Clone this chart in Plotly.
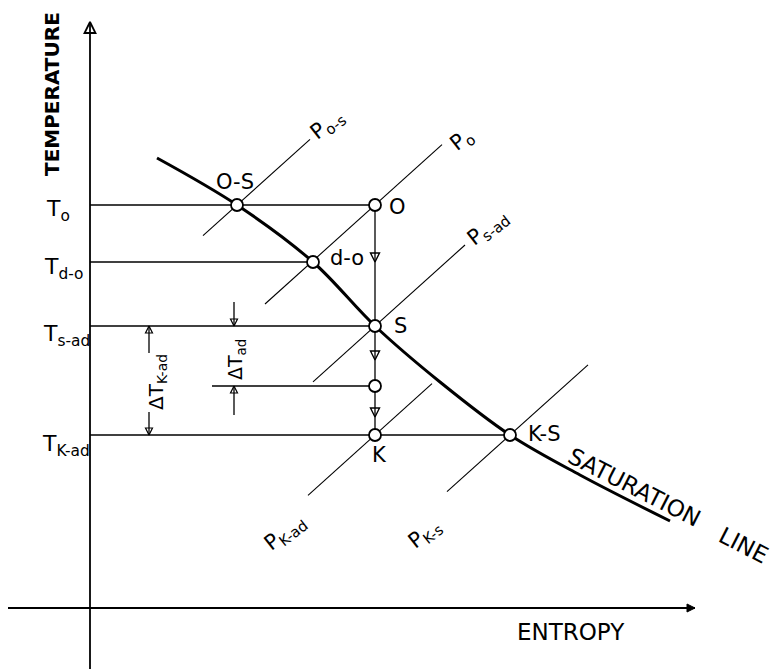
import plotly.graph_objects as go

# ---- state points on the T-s diagram (entropy s, temperature T; arbitrary units) ----
state_labels = ["O-S", "O", "d-o", "S", "", "K", "K-S"]
state_s = [14.7, 28.5, 22.3, 28.5, 28.5, 28.5, 42.0]
state_T = [40.3, 40.3, 34.6, 28.2, 22.2, 17.3, 17.3]

# saturation line
sat_s = [6.7, 14.7, 22.3, 28.5, 35.0, 42.0, 49.0, 58.0]
sat_T = [45.0, 40.3, 34.6, 28.2, 22.6, 17.3, 13.3, 8.7]

# constant-pressure lines: anchor point and entropy extent
isobar_labels = ["P<sub>o-s</sub>", "P<sub>o</sub>", "P<sub>s-ad</sub>", "P<sub>K-ad</sub>", "P<sub>K-s</sub>"]
isobar_anchor_s = [14.7, 28.5, 28.5, 28.5, 42.0]
isobar_anchor_T = [40.3, 40.3, 28.2, 17.3, 17.3]
isobar_s_lo = [11.3, 17.5, 22.3, 21.8, 35.7]
isobar_s_hi = [22.0, 35.2, 37.5, 34.2, 49.8]
ISOBAR_SLOPE = 0.9

level_labels = ["T<sub>o</sub>", "T<sub>d-o</sub>", "T<sub>s-ad</sub>", "T<sub>K-ad</sub>"]
level_T = [40.3, 34.6, 28.2, 17.3]
level_end_s = [28.5, 22.3, 28.5, 42.0]

# adiabatic process O -> S -> K
process_s = 28.5
process_T_top = 40.3
process_T_bottom = 17.3
process_arrow_T = [34.6, 24.8, 19.1]

# intermediate temperature on the adiabat (lower bound of dT_ad)
mid_T = 22.2
mid_line_start_s = 12.2

# dimension lines: (s, T where the line starts, T where the arrow tip sits)
dim_s = [5.9, 5.9, 14.4, 14.4]
dim_T_from = [25.5, 19.6, 30.6, 19.3]
dim_T_to = [28.2, 17.3, 28.2, 22.2]

# axis extents
T_AXIS_TOP, T_AXIS_BOTTOM = 58.6, -6.1
S_AXIS_LEFT, S_AXIS_RIGHT = -8.2, 60.5

S_MIN, S_MAX = -9.0, 68.6
T_MIN, T_MAX = -6.1, 60.8

FONT = "DejaVu Sans"
BLACK = "black"

fig = go.Figure()


def lines(xs, ys, width):
    fig.add_trace(go.Scatter(x=xs, y=ys, mode="lines", line=dict(color=BLACK, width=width),
                             hoverinfo="skip", showlegend=False))


def heads(xs, ys, symbol, size, width):
    fig.add_trace(go.Scatter(x=xs, y=ys, mode="markers",
                             marker=dict(symbol=symbol, size=size, color=BLACK,
                                         line=dict(color=BLACK, width=width)),
                             hoverinfo="skip", showlegend=False))


# coordinate axes
lines([0, 0, None, S_AXIS_LEFT, S_AXIS_RIGHT], [T_AXIS_BOTTOM, T_AXIS_TOP, None, 0, 0], 1.8)
heads([0], [T_AXIS_TOP], "arrow-up-open", 11, 1.8)
heads([S_AXIS_RIGHT], [0], "arrow-right", 8, 1.0)

# horizontal temperature levels from the T axis
lx, ly = [], []
for T, s_end in zip(level_T, level_end_s):
    lx += [0, s_end, None]
    ly += [T, T, None]
lx += [mid_line_start_s, process_s, None]
ly += [mid_T, mid_T, None]
lines(lx, ly, 1.3)

# isobars
ix, iy = [], []
for s0, T0, a, b in zip(isobar_anchor_s, isobar_anchor_T, isobar_s_lo, isobar_s_hi):
    ix += [a, b, None]
    iy += [T0 + ISOBAR_SLOPE * (a - s0), T0 + ISOBAR_SLOPE * (b - s0), None]
lines(ix, iy, 1.1)

# adiabatic expansion line with direction arrows
lines([process_s, process_s], [process_T_top, process_T_bottom], 1.3)
heads([process_s] * len(process_arrow_T), process_arrow_T, "arrow-down-open", 9, 1.4)

# dimension lines for the temperature drops
dx, dy = [], []
up_s, up_T, dn_s, dn_T = [], [], [], []
for s, t0, t1 in zip(dim_s, dim_T_from, dim_T_to):
    dx += [s, s, None]
    dy += [t0, t1, None]
    if t1 > t0:
        up_s.append(s); up_T.append(t1)
    else:
        dn_s.append(s); dn_T.append(t1)
lines(dx, dy, 1.3)
heads(up_s, up_T, "arrow-up-open", 7, 1.2)
heads(dn_s, dn_T, "arrow-down-open", 7, 1.2)

# saturation line
fig.add_trace(go.Scatter(x=sat_s, y=sat_T, mode="lines",
                         line=dict(color=BLACK, width=3, shape="spline", smoothing=1.0),
                         hoverinfo="skip", showlegend=False))

# state points
fig.add_trace(go.Scatter(x=state_s, y=state_T, mode="markers",
                         marker=dict(symbol="circle", size=12, color="white",
                                     line=dict(color=BLACK, width=1.8)),
                         hoverinfo="skip", showlegend=False))

ann = []


def label(x, y, text, size=21, angle=0, bold=False, family=FONT):
    t = "<b>%s</b>" % text if bold else text
    ann.append(dict(x=x, y=y, xref="x", yref="y", text=t, showarrow=False,
                    textangle=angle, xanchor="center", yanchor="middle",
                    font=dict(family=family, size=size, color=BLACK)))


# state point labels
point_label_pos = {
    "O-S": (14.5, 42.6), "O": (30.7, 40.1), "d-o": (25.7, 35.0),
    "S": (31.0, 28.2), "K": (28.9, 15.3), "K-S": (45.4, 17.4),
}
for name, (x, y) in point_label_pos.items():
    label(x, y, name, size=21)

# isobar labels
isobar_label_pos = [(23.7, 48.3), (37.2, 46.8), (39.8, 38.0), (19.5, 7.5), (33.5, 7.4)]
for text, (x, y) in zip(isobar_labels, isobar_label_pos):
    label(x, y, text, size=21, angle=-38)

# temperature level labels
level_label_pos = [(-3.2, 39.8), (-2.7, 34.0), (-2.4, 27.3), (-2.4, 16.3)]
for text, (x, y) in zip(level_labels, level_label_pos):
    label(x, y, text, size=22)

# delta T labels
label(6.7, 22.6, "ΔT<sub>K-ad</sub>", size=20, angle=-90)
label(14.6, 24.8, "ΔT<sub>ad</sub>", size=19, angle=-90)

# axis titles and curve name
label(-3.8, 51.4, "TEMPERATURE", size=20, angle=-90, bold=True)
label(48.1, -2.4, "ENTROPY", size=23)
label(54.4, 12.1, "SATURATION", size=23, angle=27)
label(65.3, 6.3, "LINE", size=23, angle=27)

fig.update_layout(
    width=776, height=669,
    margin=dict(l=0, r=0, t=0, b=0),
    paper_bgcolor="white", plot_bgcolor="white",
    xaxis=dict(range=[S_MIN, S_MAX], visible=False, fixedrange=True),
    yaxis=dict(range=[T_MIN, T_MAX], visible=False, fixedrange=True),
    annotations=ann,
    showlegend=False,
)

fig.write_html("out.html")
